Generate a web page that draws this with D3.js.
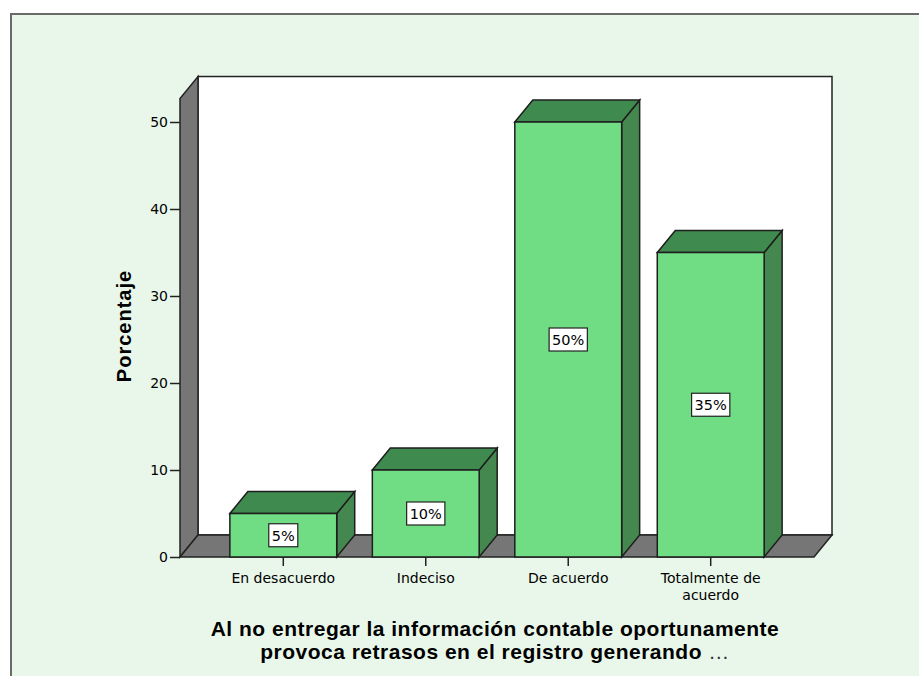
<!DOCTYPE html>
<html>
<head>
<meta charset="utf-8">
<script src="https://cdn.jsdelivr.net/npm/d3@7"></script>
<style>
  body { margin: 0; background: #fff; }
  text { fill: #000; }
</style>
</head>
<body>
<div class="chart"></div>
<script>
// data
var categories = ["En desacuerdo", "Indeciso", "De acuerdo", "Totalmente de acuerdo"];
var values = [5, 10, 50, 35];
var valueLabels = ["5%", "10%", "50%", "35%"];
var yTicks = [0, 10, 20, 30, 40, 50];
var yTitle = "Porcentaje";
var titleLines = ["Al no entregar la información contable oportunamente",
                  "provoca retrasos en el registro generando"];
var titleEllipsis = " \u2026";

var svgWidth = 919, svgHeight = 676;
var depth = { dx: 18, dy: -22 };

var svg = d3.select(".chart").append("svg")
  .attr("width", svgWidth)
  .attr("height", svgHeight);

// outer frame
svg.append("rect")
  .attr("x", 11).attr("y", 14)
  .attr("width", 960).attr("height", 700)
  .attr("fill", "#e9f7ea")
  .attr("stroke", "#6a6a6a")
  .attr("stroke-width", 2);

var x0 = 180, x1 = 814, yBase = 557;

var yScale = d3.scaleLinear().domain([0, 50]).range([yBase, 122]);
var yTop = yScale(52.7);

var xScale = d3.scaleBand()
  .domain(categories)
  .range([x0, x1])
  .paddingInner(0.25)
  .paddingOuter(0.35);

var g = svg.append("g");

// back wall
g.append("rect")
  .attr("x", x0 + depth.dx).attr("y", yTop + depth.dy)
  .attr("width", x1 - x0).attr("height", yBase - yTop)
  .attr("fill", "#fff").attr("stroke", "#222").attr("stroke-width", 1.5);

// left wall
g.append("path")
  .attr("d", `M${x0},${yBase} L${x0},${yTop} L${x0 + depth.dx},${yTop + depth.dy} L${x0 + depth.dx},${yBase + depth.dy} Z`)
  .attr("fill", "#767676").attr("stroke", "#222").attr("stroke-width", 1.5);

// floor
g.append("path")
  .attr("d", `M${x0},${yBase} L${x1},${yBase} L${x1 + depth.dx},${yBase + depth.dy} L${x0 + depth.dx},${yBase + depth.dy} Z`)
  .attr("fill", "#767676").attr("stroke", "#222").attr("stroke-width", 1.5);

// bars
var bars = g.selectAll(".bar").data(values).enter().append("g").attr("class", "bar");
bars.each(function(d, i) {
  var bx = xScale(categories[i]), bw = xScale.bandwidth(), by = yScale(d);
  var sel = d3.select(this);
  sel.append("path")
    .attr("d", `M${bx + bw},${yBase} L${bx + bw},${by} L${bx + bw + depth.dx},${by + depth.dy} L${bx + bw + depth.dx},${yBase + depth.dy} Z`)
    .attr("fill", "#45884f").attr("stroke", "#1e1e1e").attr("stroke-width", 1.5);
  sel.append("path")
    .attr("d", `M${bx},${by} L${bx + depth.dx},${by + depth.dy} L${bx + bw + depth.dx},${by + depth.dy} L${bx + bw},${by} Z`)
    .attr("fill", "#3f8a4e").attr("stroke", "#1e1e1e").attr("stroke-width", 1.5);
  sel.append("rect")
    .attr("x", bx).attr("y", by).attr("width", bw).attr("height", yBase - by)
    .attr("fill", "#70dd85").attr("stroke", "#1e1e1e").attr("stroke-width", 1.5);
});

// value labels
values.forEach(function(d, i) {
  var cx = xScale(categories[i]) + xScale.bandwidth() / 2;
  var cy = yScale(d / 2);
  var t = g.append("text")
    .attr("x", cx).attr("y", cy + 5.5)
    .attr("text-anchor", "middle")
    .style("font-family", "DejaVu Sans, sans-serif")
    .style("font-size", "14.5px")
    .text(valueLabels[i]);
  var bb = t.node().getBBox();
  g.insert("rect", function() { return t.node(); })
    .attr("x", bb.x - 3).attr("y", cy - 11.5)
    .attr("width", bb.width + 6).attr("height", 23)
    .attr("fill", "#fff").attr("stroke", "#222").attr("stroke-width", 1.2);
});

// y axis
var yAxis = d3.axisLeft(yScale).tickValues(yTicks).tickSize(10).tickPadding(2);
var yg = g.append("g").attr("transform", `translate(${x0},0)`).call(yAxis);
yg.select(".domain").remove();
yg.selectAll("line").attr("stroke", "#222").attr("stroke-width", 1.5);
yg.selectAll("text")
  .style("font-family", "DejaVu Sans, sans-serif")
  .style("font-size", "14px")
  .attr("fill", "#111");

// x axis ticks and labels
var xAxis = d3.axisBottom(xScale).tickSize(9).tickFormat("");
var xg = g.append("g").attr("transform", `translate(0,${yBase})`).call(xAxis);
xg.select(".domain").remove();
xg.selectAll("line").attr("stroke", "#222").attr("stroke-width", 1.5);

var xLabelLines = [["En desacuerdo"], ["Indeciso"], ["De acuerdo"], ["Totalmente de", "acuerdo"]];
xLabelLines.forEach(function(lines, i) {
  lines.forEach(function(l, j) {
    g.append("text")
      .attr("text-anchor", "middle")
      .attr("x", xScale(categories[i]) + xScale.bandwidth() / 2)
      .attr("y", 583 + j * 17)
      .style("font-family", "DejaVu Sans, sans-serif")
      .style("font-size", "14px")
      .text(l);
  });
});

// y axis title
g.append("text")
  .attr("transform", "translate(131, 326) rotate(-90)")
  .attr("text-anchor", "middle")
  .style("font-family", "Liberation Sans, Arial, sans-serif")
  .style("font-weight", "bold")
  .style("font-size", "20px")
  .style("letter-spacing", "1px")
  .text(yTitle);

// chart title (the trailing ellipsis is drawn in a normal weight)
titleLines.forEach(function(l, j) {
  var t = g.append("text")
    .attr("x", 495).attr("y", 636 + j * 23)
    .attr("text-anchor", "middle")
    .style("font-family", "Liberation Sans, Arial, sans-serif")
    .style("font-weight", "bold")
    .style("font-size", "21px")
    .style("letter-spacing", "0.5px");
  t.append("tspan").text(l);
  if (j === titleLines.length - 1) {
    t.append("tspan").style("font-weight", "normal").attr("fill", "#333").text(titleEllipsis);
  }
});
</script>
</body>
</html>
